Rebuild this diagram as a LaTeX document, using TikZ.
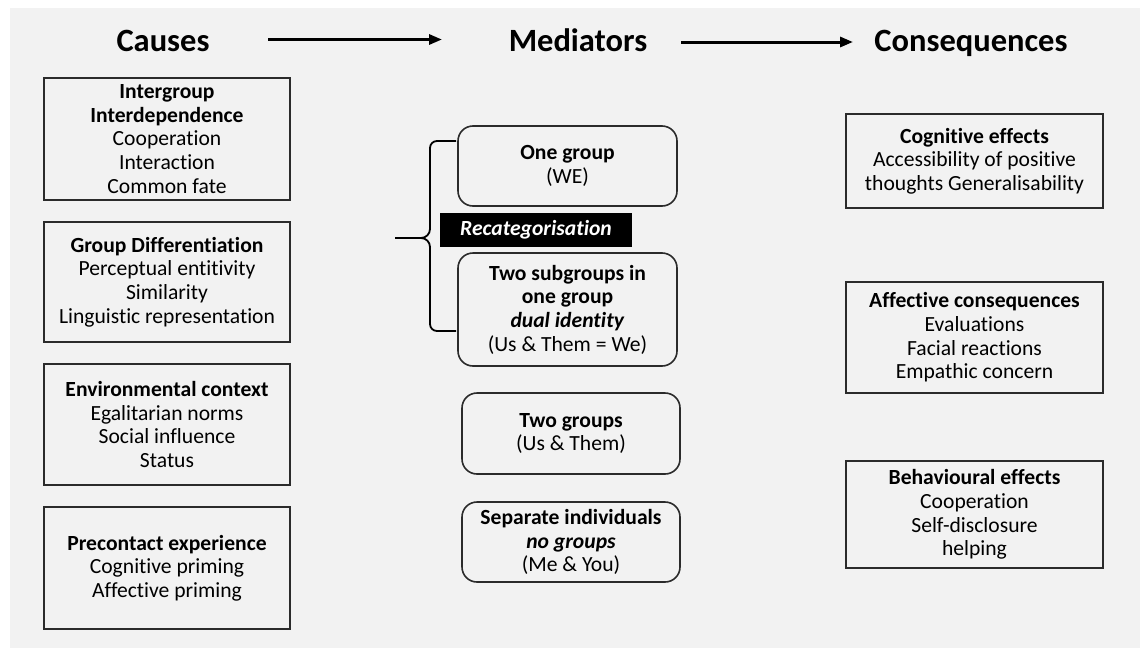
\documentclass[tikz,border=0pt]{standalone}
\usepackage{fontspec}
\setmainfont{Carlito}[Ligatures={NoCommon,TeX}]
\usetikzlibrary{arrows.meta}
\definecolor{panel}{HTML}{F2F2F2}
\definecolor{edge}{HTML}{2B2B2B}
\tikzset{
  heading/.style={font=\fontsize{32.5}{38}\selectfont\bfseries, inner sep=0pt, anchor=base},
  flow/.style={line width=3pt, -{Triangle[length=13pt,width=10pt]}},
  squarebox/.style={draw=edge, line width=1.6pt, align=center, inner sep=0pt,
    font=\fontsize{21.6}{23.7}\selectfont},
  roundbox/.style={squarebox, rounded corners=15pt},
  tagbox/.style={fill=black, text=white, inner sep=0pt, align=center,
    font=\fontsize{21.6}{23.7}\selectfont\bfseries\itshape},
  bracket/.style={draw=black, line width=1.8pt}
}
\begin{document}
\begin{tikzpicture}[x=1pt,y=-1pt]
  % page and grey panel
  \fill[white] (0,0) rectangle (1140,648);
  \fill[panel] (10,8) rectangle (1140,648);
  \useasboundingbox (0,0) rectangle (1140,648);

  % column headings and the flow arrows between them
  \node[heading] (causes) at (163,51.5) {Causes};
  \node[heading] (mediators) at (578,51.5) {Mediators};
  \node[heading] (consequences) at (971,51.5) {Consequences};
  \coordinate (flowAfrom) at (268,39.5);
  \coordinate (flowAto) at (442,39.5);
  \coordinate (flowBfrom) at (681,42);
  \coordinate (flowBto) at (853,42);
  \draw[flow] (flowAfrom) -- (flowAto);
  \draw[flow] (flowBfrom) -- (flowBto);

  % causes
  \node[squarebox, minimum width=246pt, minimum height=122pt] (interdep) at (167,139)
    {\textbf{Intergroup}\\\textbf{Interdependence}\\Cooperation\\Interaction\\Common fate};
  \node[squarebox, minimum width=246pt, minimum height=120pt] (differ) at (167,282)
    {\textbf{Group Differentiation}\\Perceptual entitivity\\Similarity\\Linguistic representation};
  \node[squarebox, minimum width=246pt, minimum height=121pt] (context) at (167,424.5)
    {\textbf{Environmental context}\\Egalitarian norms\\Social influence\\Status};
  \node[squarebox, minimum width=246pt, minimum height=122pt] (precontact) at (167,568)
    {\textbf{Precontact experience}\\Cognitive priming\\Affective priming};

  % mediators
  \node[roundbox, minimum width=219pt, minimum height=80pt] (onegroup) at (567.5,166)
    {\textbf{One group}\\(WE)};
  \node[tagbox, minimum width=192pt, minimum height=34pt] (recat) at (536,230)
    {Recategorisation};
  \node[roundbox, minimum width=219pt, minimum height=113pt] (dual) at (567.5,309.5)
    {\textbf{Two subgroups in}\\\textbf{one group}\\\textbf{\textit{dual identity}}\\(Us \& Them = We)};
  \node[roundbox, minimum width=218pt, minimum height=81pt] (twogroups) at (571,433.5)
    {\textbf{Two groups}\\(Us \& Them)};
  \node[roundbox, minimum width=218pt, minimum height=80pt] (separate) at (571,542)
    {\textbf{Separate individuals}\\\textbf{\textit{no groups}}\\(Me \& You)};

  % brace grouping the recategorised forms
  \draw[bracket] (456,141) -- (437,141) to[out=180,in=90] (430,148) -- (430,229)
    to[out=-90,in=0] (421,238) -- (395,238);
  \draw[bracket] (421,238) to[out=0,in=90] (430,247) -- (430,324)
    to[out=-90,in=180] (437,331) -- (456,331);

  % consequences
  \node[squarebox, minimum width=257pt, minimum height=94pt] (cognitive) at (974.5,161)
    {\textbf{Cognitive effects}\\Accessibility of positive\\thoughts Generalisability};
  \node[squarebox, minimum width=257pt, minimum height=111pt] (affective) at (974.5,337.5)
    {\textbf{Affective consequences}\\Evaluations\\Facial reactions\\Empathic concern};
  \node[squarebox, minimum width=257pt, minimum height=107pt] (behaviour) at (974.5,514.5)
    {\textbf{Behavioural effects}\\Cooperation\\Self-disclosure\\helping};
\end{tikzpicture}
\end{document}
